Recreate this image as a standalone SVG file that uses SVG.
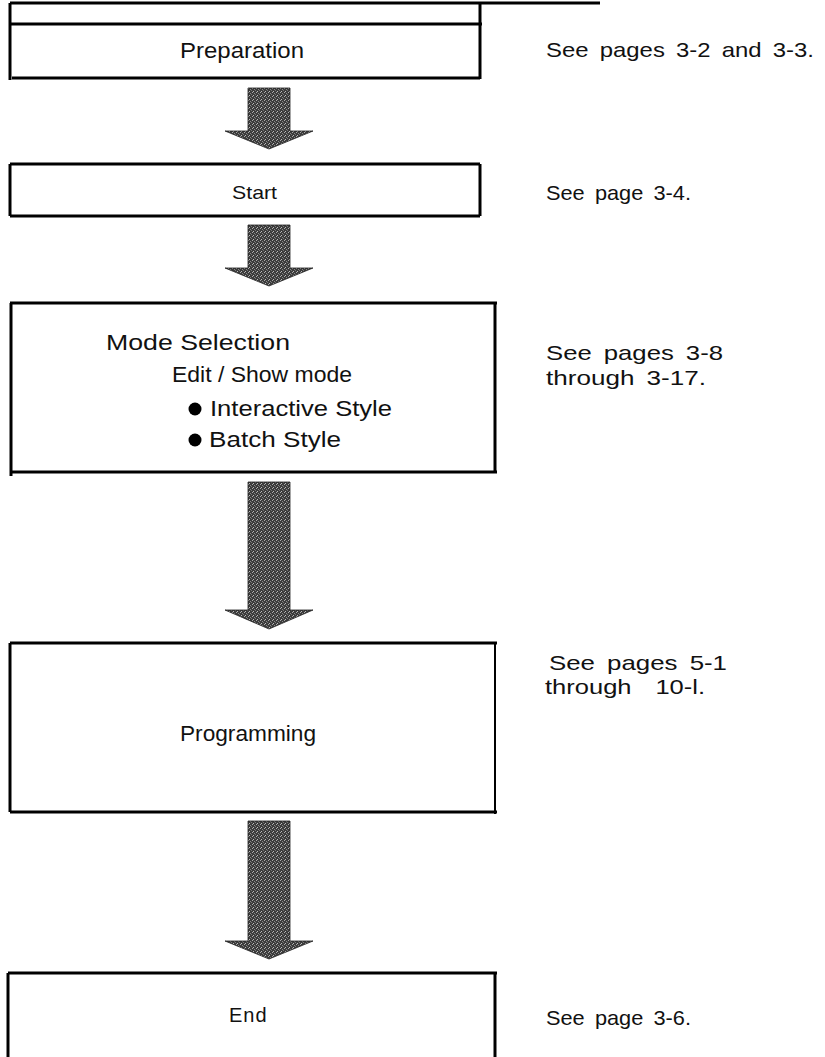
<svg xmlns="http://www.w3.org/2000/svg" width="825" height="1057" viewBox="0 0 825 1057">
<defs>
<pattern id="tex" width="4" height="4" patternUnits="userSpaceOnUse">
<rect width="4" height="4" fill="#3c3c3c"/>
<rect x="0" y="0" width="1" height="1" fill="#aaa"/>
<rect x="2" y="1" width="1" height="1" fill="#888"/>
<rect x="1" y="3" width="1" height="1" fill="#bbb"/>
<rect x="3" y="2" width="1" height="1" fill="#777"/>
</pattern>
</defs>
<style>
.ln{stroke:#000;stroke-width:3;fill:none}
.t{font-family:"Liberation Sans",Arial,sans-serif;fill:#111}
.bx{font-size:22px}
.rt{font-size:21px;word-spacing:4px}
.arr{fill:url(#tex);stroke:#222;stroke-width:0.8}
</style>
<g id="connectors">
<path class="arr" d="M248,88 H290 V131 H313 L269,149 L225,131 H248 Z"/>
<path class="arr" d="M248,225 H290 V268 H313 L269,286 L225,268 H248 Z"/>
<path class="arr" d="M248,482 H290 V610 H313 L269,629 L225,610 H248 Z"/>
<path class="arr" d="M248,821 H290 V941 H313 L269,959 L225,941 H248 Z"/>
</g>
<g id="top-rule">
<line class="ln" x1="10" y1="3" x2="600" y2="3"/>
</g>
<g id="node-preparation">
<line class="ln" x1="10" y1="24" x2="482" y2="24"/>
<line class="ln" x1="12" y1="78" x2="480" y2="78"/>
<line class="ln" x1="10" y1="3" x2="10" y2="80"/>
<line class="ln" x1="480" y1="3" x2="480" y2="79"/>
<text class="t bx" x="180" y="58" textLength="124" lengthAdjust="spacingAndGlyphs">Preparation</text>
</g>
<g id="node-start">
<line class="ln" x1="10" y1="164" x2="480" y2="164"/>
<line class="ln" x1="10" y1="216" x2="480" y2="216"/>
<line class="ln" x1="10" y1="164" x2="10" y2="216"/>
<line class="ln" x1="480" y1="164" x2="480" y2="216"/>
<text class="t" x="232" y="199" font-size="19" textLength="45" lengthAdjust="spacingAndGlyphs">Start</text>
</g>
<g id="node-mode">
<line class="ln" x1="10" y1="303" x2="497" y2="303"/>
<line class="ln" x1="10" y1="472" x2="497" y2="472"/>
<line class="ln" x1="11" y1="303" x2="11" y2="476"/>
<line class="ln" x1="495" y1="303" x2="495" y2="473"/>
<text class="t bx" x="106" y="350" textLength="184" lengthAdjust="spacingAndGlyphs">Mode Selection</text>
<text class="t bx" x="172" y="382" textLength="180" lengthAdjust="spacingAndGlyphs">Edit / Show mode</text>
<circle cx="195" cy="409" r="6.5" fill="#000"/>
<text class="t bx" x="210" y="416" textLength="182" lengthAdjust="spacingAndGlyphs">Interactive Style</text>
<circle cx="195" cy="440" r="6.5" fill="#000"/>
<text class="t bx" x="209" y="447" textLength="132" lengthAdjust="spacingAndGlyphs">Batch Style</text>
</g>
<g id="node-programming">
<line class="ln" x1="10" y1="643" x2="497" y2="643"/>
<line class="ln" x1="10" y1="812" x2="497" y2="812"/>
<line class="ln" x1="10" y1="643" x2="10" y2="812"/>
<line x1="495" y1="643" x2="495" y2="814" stroke="#000" stroke-width="2"/>
<text class="t bx" x="180" y="741" textLength="136" lengthAdjust="spacingAndGlyphs">Programming</text>
</g>
<g id="node-end">
<line class="ln" x1="8" y1="973" x2="497" y2="973"/>
<line class="ln" x1="8" y1="973" x2="8" y2="1057"/>
<line class="ln" x1="495" y1="973" x2="495" y2="1057"/>
<text class="t" x="229" y="1022" font-size="20" letter-spacing="1">End</text>
</g>
<g id="refs">
<text class="t rt" x="546" y="57" textLength="268" lengthAdjust="spacingAndGlyphs">See pages 3-2 and 3-3.</text>
<text class="t rt" x="546" y="200" textLength="145" lengthAdjust="spacingAndGlyphs">See page 3-4.</text>
<text class="t rt" x="546" y="360" textLength="177" lengthAdjust="spacingAndGlyphs">See pages 3-8</text>
<text class="t rt" x="546" y="385" textLength="160" lengthAdjust="spacingAndGlyphs">through 3-17.</text>
<text class="t rt" x="549" y="670" textLength="178" lengthAdjust="spacingAndGlyphs">See pages 5-1</text>
<text class="t rt" x="545" y="694" textLength="160" lengthAdjust="spacingAndGlyphs" xml:space="preserve">through  10-l.</text>
<text class="t rt" x="546" y="1025" textLength="145" lengthAdjust="spacingAndGlyphs">See page 3-6.</text>
</g>
</svg>
